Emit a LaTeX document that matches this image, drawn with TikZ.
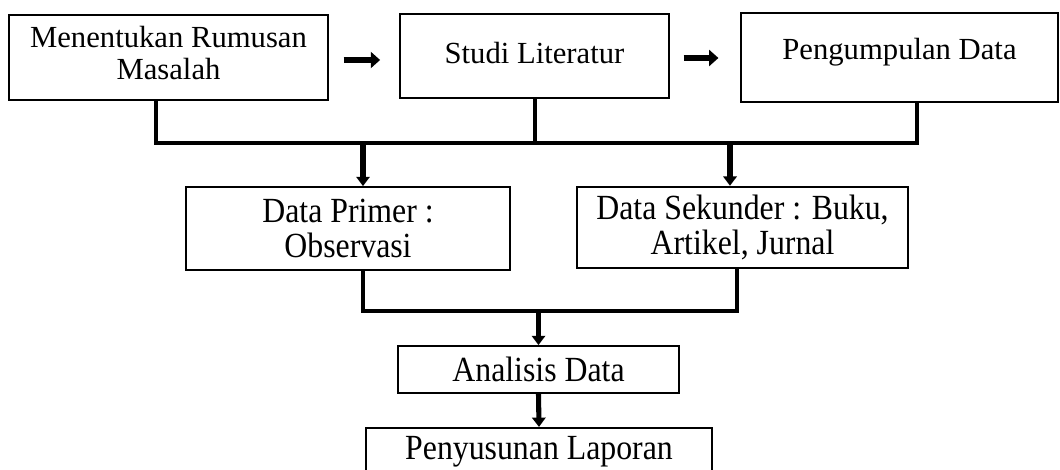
\documentclass[tikz,border=0pt]{standalone}
\usepackage{fontspec}
\setmainfont{Liberation Serif}
\newfontfamily\narrowserif[FakeStretch=0.9]{Liberation Serif}
\usetikzlibrary{arrows.meta}

\begin{document}
\begin{tikzpicture}[
        x=0.75pt, y=-0.75pt,
        font=\fontsize{23}{24}\selectfont,
        % Styles
        stagebox/.style={rectangle, draw=black, line width=1.6pt, align=center, inner sep=2pt},
        lowbox/.style={stagebox, font=\narrowserif\fontsize{26.5}{26.5}\selectfont},
        bus/.style={draw=black, line width=3pt, line join=miter},
        flowright/.style={-{Triangle[length=7pt, width=12pt]}, line width=5pt},
        flowdown/.style={-{Triangle[length=7pt, width=10pt]}, line width=3.8pt}
    ]
    \useasboundingbox (0,0) rectangle (1060,470);

    % 1. TOP ROW
    \node[stagebox, text depth=7.5pt, minimum width=239pt, minimum height=64pt] (rumusan) at (168.5,57.5) {Menentukan Rumusan\\Masalah};
    \node[stagebox, text depth=4pt, minimum width=202pt, minimum height=63pt] (literatur) at (534.5,56) {Studi Literatur};
    \node[stagebox, text depth=13pt, minimum width=238pt, minimum height=67pt] (pengumpulan) at (899.5,57.5) {Pengumpulan Data};

    \draw[flowright, shorten <=11pt, shorten >=14pt] (rumusan.east |- 0,60) -- (literatur.west |- 0,60);
    \draw[flowright, shorten <=10pt, shorten >=16pt] (literatur.east |- 0,58) -- (pengumpulan.west |- 0,58);

    % 2. UPPER BUS
    \coordinate (busL) at (156,143);
    \coordinate (busR) at (917,143);
    \draw[bus] (busL |- rumusan.south) -- (busL) -- (busR) -- (busR |- pengumpulan.south);
    \draw[bus] (literatur.south) -- (literatur.south |- busL);

    % 3. DATA SOURCES
    \node[lowbox, minimum width=243pt, minimum height=62pt] (primer) at (348,228.5) {Data Primer :\\Observasi};
    \node[lowbox, minimum width=248pt, minimum height=61pt] (sekunder) at (742.5,227.5) {Data Sekunder : Buku,\\Artikel, Jurnal};

    \coordinate (dropL) at (363,143);
    \coordinate (dropR) at (730,143);
    \draw[flowdown] (dropL) -- (dropL |- primer.north);
    \draw[flowdown] (dropR) -- (dropR |- sekunder.north);

    % 4. LOWER BUS
    \coordinate (joinL) at (363,311);
    \coordinate (joinR) at (737,311);
    \draw[bus] (joinL |- primer.south) -- (joinL) -- (joinR) -- (joinR |- sekunder.south);

    % 5. ANALYSIS AND REPORT
    \node[lowbox, minimum width=211pt, minimum height=35pt] (analisis) at (538.5,369.5) {Analisis Data};
    \node[lowbox, minimum width=260pt, minimum height=36pt] (laporan) at (539,452) {Penyusunan Laporan};

    \draw[flowdown] (analisis.north |- joinL) -- (analisis.north);
    \draw[flowdown] (analisis.south) -- (laporan.north);
\end{tikzpicture}
\end{document}
